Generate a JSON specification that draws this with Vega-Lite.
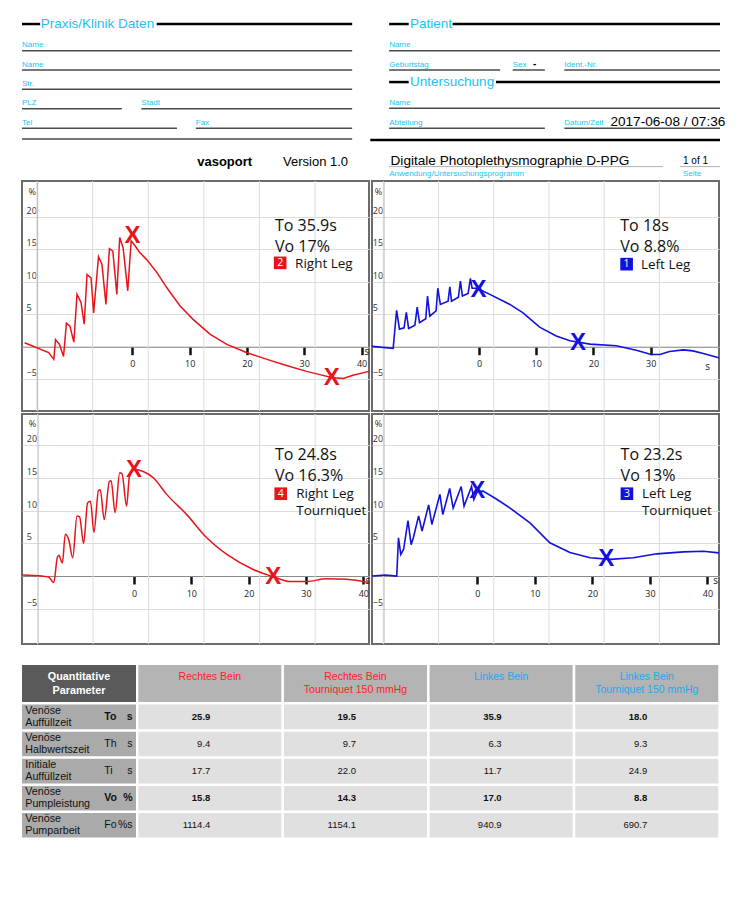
{
"$schema":"https://vega.github.io/schema/vega-lite/v6.json",
"background":"white",
"padding":{"left":18,"top":0,"right":0,"bottom":0},
"config":{"font":"Liberation Sans","view":{"stroke":null},"axis":{"labelFont":"Open Sans","titleFont":"Open Sans"},"text":{"font":"Liberation Sans"}},
"datasets":{
"formRules":[
{"kind":"section","x":0,"x2":2.6,"y":13.5},{"kind":"section","x":19.3,"x2":47.3,"y":13.5},{"kind":"section","x":52.6,"x2":55.4,"y":13.5},{"kind":"section","x":61.7,"x2":100,"y":13.5},{"kind":"section","x":52.6,"x2":55.4,"y":46.1},{"kind":"section","x":67.9,"x2":100,"y":46.1},{"kind":"section","x":49.9,"x2":100,"y":78.7},
{"kind":"field","x":0,"x2":47.3,"y":28.5},{"kind":"field","x":0,"x2":47.3,"y":39.3},{"kind":"field","x":0,"x2":47.3,"y":50.2},{"kind":"field","x":0,"x2":14.3,"y":61.1},{"kind":"field","x":17.1,"x2":47.3,"y":61.1},{"kind":"field","x":0,"x2":22.2,"y":72.1},{"kind":"field","x":24.9,"x2":47.3,"y":72.1},{"kind":"field","x":0,"x2":47.3,"y":78.1},
{"kind":"field","x":52.6,"x2":100,"y":28.5},{"kind":"field","x":52.6,"x2":68.5,"y":39.3},{"kind":"field","x":70.3,"x2":74.9,"y":39.3},{"kind":"field","x":77.7,"x2":100,"y":39.3},{"kind":"field","x":52.6,"x2":100,"y":60.8},{"kind":"field","x":52.6,"x2":74.9,"y":72.1},{"kind":"field","x":77.7,"x2":100,"y":72.1},
{"kind":"hair","x":52.6,"x2":91.8,"y":93.6},{"kind":"hair","x":94.3,"x2":100,"y":93.6}],
"formTexts":[
{"kind":"heading","text":"Praxis/Klinik Daten","x":2.7,"y":15.9},{"kind":"heading","text":"Patient","x":55.6,"y":15.9},{"kind":"heading","text":"Untersuchung","x":55.6,"y":48.5},
{"kind":"label","text":"Name","x":0,"y":26.5},{"kind":"label","text":"Name","x":0,"y":37.4},{"kind":"label","text":"Str.","x":0,"y":48.2},{"kind":"label","text":"PLZ","x":0,"y":59.1},{"kind":"label","text":"Stadt","x":17.1,"y":59.1},{"kind":"label","text":"Tel","x":0,"y":70.1},{"kind":"label","text":"Fax","x":24.9,"y":70.1},
{"kind":"label","text":"Name","x":52.6,"y":26.5},{"kind":"label","text":"Geburtstag","x":52.6,"y":37.4},{"kind":"label","text":"Sex","x":70.3,"y":37.4},{"kind":"label","text":"Ident.-Nr.","x":77.7,"y":37.4},{"kind":"label","text":"Name","x":52.6,"y":58.9},{"kind":"label","text":"Abteilung","x":52.6,"y":70.1},{"kind":"label","text":"Datum/Zeit","x":77.7,"y":70.1},{"kind":"label","text":"Anwendung/Untersuchungsprogramm","x":52.6,"y":98.9},{"kind":"label","text":"Seite","x":94.7,"y":98.9},
{"kind":"sex","text":"-","x":73.2,"y":37.4},
{"kind":"stamp","text":"2017-06-08 / 07:36","x":84.3,"y":70.9},
{"kind":"program","text":"Digitale Photoplethysmographie D-PPG","x":52.8,"y":92.9},
{"kind":"page","text":"1 of 1","x":94.7,"y":92.1},
{"kind":"brand","text":"vasoport","x":25.1,"y":93.3},
{"kind":"version","text":"Version 1.0","x":37.4,"y":93.3}],
"vgrid":[{"g":0},{"g":1},{"g":2},{"g":3},{"g":4},{"g":5}],
"curves":[
{"panel":"RL","t":-18.8,"v":0.6},{"panel":"RL","t":-14.6,"v":-0.9},{"panel":"RL","t":-13.7,"v":-1.95},{"panel":"RL","t":-13.4,"v":1.1},{"panel":"RL","t":-12.7,"v":0.35},{"panel":"RL","t":-12.0,"v":-1.5},{"panel":"RL","t":-11.5,"v":3.6},{"panel":"RL","t":-10.9,"v":3.2},{"panel":"RL","t":-10.2,"v":0.7},{"panel":"RL","t":-9.65,"v":8.05},{"panel":"RL","t":-8.95,"v":6.8},{"panel":"RL","t":-8.4,"v":3.45},{"panel":"RL","t":-7.9,"v":11.1},{"panel":"RL","t":-7.2,"v":10.6},{"panel":"RL","t":-6.75,"v":5.2},{"panel":"RL","t":-5.9,"v":13.85},{"panel":"RL","t":-5.3,"v":12.7},{"panel":"RL","t":-4.6,"v":6.5},{"panel":"RL","t":-4.0,"v":15.1},{"panel":"RL","t":-3.4,"v":14.7},{"panel":"RL","t":-2.7,"v":8.05},{"panel":"RL","t":-2.2,"v":16.8},{"panel":"RL","t":-1.6,"v":15.2},{"panel":"RL","t":-0.8,"v":8.6},{"panel":"RL","t":-0.2,"v":16.3},{"panel":"RL","t":0.5,"v":15.5},{"panel":"RL","t":1.3,"v":14.5},{"panel":"RL","t":2.5,"v":13.4},{"panel":"RL","t":4.3,"v":11.4},{"panel":"RL","t":6.0,"v":9.1},{"panel":"RL","t":8.3,"v":6.3},{"panel":"RL","t":10.6,"v":4.2},{"panel":"RL","t":13.6,"v":1.9},{"panel":"RL","t":16.5,"v":0.35},{"panel":"RL","t":19.9,"v":-0.9},{"panel":"RL","t":23.5,"v":-1.95},{"panel":"RL","t":26.9,"v":-2.9},{"panel":"RL","t":30.4,"v":-3.8},{"panel":"RL","t":32.7,"v":-4.3},{"panel":"RL","t":34.8,"v":-4.75},{"panel":"RL","t":36.8,"v":-4.9},{"panel":"RL","t":38.5,"v":-4.4},{"panel":"RL","t":41.3,"v":-3.8},
{"panel":"LL","t":-18.7,"v":0.05},{"panel":"LL","t":-15.0,"v":-0.25},{"panel":"LL","t":-14.4,"v":5.6},{"panel":"LL","t":-13.9,"v":2.7},{"panel":"LL","t":-13.1,"v":2.9},{"panel":"LL","t":-12.7,"v":5.3},{"panel":"LL","t":-12.3,"v":2.8},{"panel":"LL","t":-11.2,"v":3.3},{"panel":"LL","t":-10.8,"v":6.1},{"panel":"LL","t":-10.4,"v":3.7},{"panel":"LL","t":-9.3,"v":4.3},{"panel":"LL","t":-9.0,"v":7.8},{"panel":"LL","t":-8.6,"v":4.7},{"panel":"LL","t":-7.5,"v":5.5},{"panel":"LL","t":-7.2,"v":9.0},{"panel":"LL","t":-6.75,"v":6.5},{"panel":"LL","t":-5.4,"v":7.0},{"panel":"LL","t":-5.1,"v":9.2},{"panel":"LL","t":-4.8,"v":7.0},{"panel":"LL","t":-3.6,"v":7.6},{"panel":"LL","t":-3.25,"v":10.1},{"panel":"LL","t":-2.9,"v":7.8},{"panel":"LL","t":-1.9,"v":8.2},{"panel":"LL","t":-1.5,"v":10.5},{"panel":"LL","t":-1.2,"v":9.0},{"panel":"LL","t":-0.5,"v":9.0},{"panel":"LL","t":0.1,"v":8.8},{"panel":"LL","t":1.9,"v":8.05},{"panel":"LL","t":5.4,"v":6.5},{"panel":"LL","t":7.7,"v":5.2},{"panel":"LL","t":10.6,"v":3.0},{"panel":"LL","t":13.5,"v":1.65},{"panel":"LL","t":15.9,"v":0.9},{"panel":"LL","t":19.4,"v":0.4},{"panel":"LL","t":24.0,"v":0.15},{"panel":"LL","t":27.5,"v":-0.55},{"panel":"LL","t":30.1,"v":-1.2},{"panel":"LL","t":31.6,"v":-1.2},{"panel":"LL","t":33.3,"v":-0.75},{"panel":"LL","t":35.7,"v":-0.5},{"panel":"LL","t":37.4,"v":-0.65},{"panel":"LL","t":39.2,"v":-1.05},{"panel":"LL","t":41.9,"v":-1.7},
{"panel":"RLT","t":-19.5,"v":0.15},{"panel":"RLT","t":-16.1,"v":0.0},{"panel":"RLT","t":-14.9,"v":-0.15},{"panel":"RLT","t":-14.0,"v":-1.0},{"panel":"RLT","t":-13.4,"v":2.8},{"panel":"RLT","t":-13.1,"v":3.2},{"panel":"RLT","t":-12.7,"v":2.3},{"panel":"RLT","t":-12.5,"v":2.0},{"panel":"RLT","t":-12.0,"v":6.4},{"panel":"RLT","t":-11.4,"v":5.6},{"panel":"RLT","t":-10.7,"v":2.8},{"panel":"RLT","t":-9.95,"v":9.2},{"panel":"RLT","t":-9.5,"v":9.05},{"panel":"RLT","t":-8.8,"v":5.0},{"panel":"RLT","t":-8.1,"v":11.2},{"panel":"RLT","t":-7.6,"v":11.45},{"panel":"RLT","t":-7.0,"v":6.7},{"panel":"RLT","t":-6.2,"v":13.1},{"panel":"RLT","t":-5.9,"v":13.2},{"panel":"RLT","t":-5.2,"v":8.65},{"panel":"RLT","t":-4.3,"v":14.5},{"panel":"RLT","t":-4.0,"v":14.6},{"panel":"RLT","t":-3.3,"v":9.7},{"panel":"RLT","t":-2.5,"v":15.8},{"panel":"RLT","t":-2.1,"v":15.65},{"panel":"RLT","t":-1.3,"v":10.7},{"panel":"RLT","t":-0.8,"v":15.3},{"panel":"RLT","t":0.0,"v":16.3},{"panel":"RLT","t":1.6,"v":16.0},{"panel":"RLT","t":3.4,"v":15.0},{"panel":"RLT","t":5.7,"v":12.5},{"panel":"RLT","t":9.2,"v":9.4},{"panel":"RLT","t":12.7,"v":5.85},{"panel":"RLT","t":16.2,"v":3.3},{"panel":"RLT","t":20.8,"v":1.0},{"panel":"RLT","t":24.3,"v":-0.1},{"panel":"RLT","t":27.2,"v":-0.85},{"panel":"RLT","t":30.1,"v":-0.85},{"panel":"RLT","t":33.6,"v":-0.4},{"panel":"RLT","t":37.1,"v":-0.5},{"panel":"RLT","t":41.0,"v":-1.0},
{"panel":"LLT","t":-18.3,"v":0.0},{"panel":"LLT","t":-16.0,"v":0.15},{"panel":"LLT","t":-14.0,"v":0.0},{"panel":"LLT","t":-13.7,"v":5.85},{"panel":"LLT","t":-13.3,"v":3.3},{"panel":"LLT","t":-12.8,"v":4.1},{"panel":"LLT","t":-12.05,"v":8.5},{"panel":"LLT","t":-11.5,"v":4.8},{"panel":"LLT","t":-11.1,"v":5.9},{"panel":"LLT","t":-10.2,"v":9.2},{"panel":"LLT","t":-9.6,"v":6.9},{"panel":"LLT","t":-8.45,"v":10.9},{"panel":"LLT","t":-7.9,"v":7.9},{"panel":"LLT","t":-6.5,"v":12.5},{"panel":"LLT","t":-6.0,"v":9.4},{"panel":"LLT","t":-4.8,"v":13.4},{"panel":"LLT","t":-4.2,"v":10.4},{"panel":"LLT","t":-2.8,"v":13.7},{"panel":"LLT","t":-2.3,"v":10.7},{"panel":"LLT","t":-1.0,"v":13.7},{"panel":"LLT","t":-0.6,"v":11.7},{"panel":"LLT","t":0.0,"v":12.9},{"panel":"LLT","t":1.0,"v":13.0},{"panel":"LLT","t":3.1,"v":11.9},{"panel":"LLT","t":5.7,"v":10.4},{"panel":"LLT","t":9.2,"v":8.1},{"panel":"LLT","t":12.6,"v":5.1},{"panel":"LLT","t":16.1,"v":3.6},{"panel":"LLT","t":19.6,"v":2.8},{"panel":"LLT","t":23.1,"v":2.55},{"panel":"LLT","t":27.1,"v":2.8},{"panel":"LLT","t":31.2,"v":3.4},{"panel":"LLT","t":35.8,"v":3.7},{"panel":"LLT","t":39.3,"v":3.8},{"panel":"LLT","t":42.0,"v":3.55}],
"markers":[
{"panel":"RL","t":0.05,"v":17.0},{"panel":"RL","t":34.8,"v":-4.8},
{"panel":"LL","t":-0.1,"v":8.8},{"panel":"LL","t":17.3,"v":0.5},
{"panel":"RLT","t":0.0,"v":16.3},{"panel":"RLT","t":24.3,"v":-0.1},
{"panel":"LLT","t":0.0,"v":13.0},{"panel":"LLT","t":22.4,"v":2.55}],
"notes":[
{"panel":"RL","role":"stat","text":"To 35.9s","t":24.9,"v":18.6},{"panel":"RL","role":"stat","text":"Vo 17%","t":24.9,"v":15.35},{"panel":"RL","role":"badge","text":"2","t":25.8,"v":12.9},{"panel":"RL","role":"leg","text":"Right Leg","t":28.4,"v":12.7},
{"panel":"LL","role":"stat","text":"To 18s","t":24.7,"v":18.6},{"panel":"LL","role":"stat","text":"Vo 8.8%","t":24.7,"v":15.35},{"panel":"LL","role":"badge","text":"1","t":25.8,"v":12.7},{"panel":"LL","role":"leg","text":"Left Leg","t":28.3,"v":12.6},
{"panel":"RLT","role":"stat","text":"To 24.8s","t":24.6,"v":18.5},{"panel":"RLT","role":"stat","text":"Vo 16.3%","t":24.6,"v":15.25},{"panel":"RLT","role":"badge","text":"4","t":25.6,"v":12.6},{"panel":"RLT","role":"leg","text":"Right Leg","t":28.3,"v":12.6},{"panel":"RLT","role":"leg","text":"Tourniquet","t":28.3,"v":9.9},
{"panel":"LLT","role":"stat","text":"To 23.2s","t":24.9,"v":18.5},{"panel":"LLT","role":"stat","text":"Vo 13%","t":24.9,"v":15.25},{"panel":"LLT","role":"badge","text":"3","t":26.0,"v":12.6},{"panel":"LLT","role":"leg","text":"Left Leg","t":28.6,"v":12.6},{"panel":"LLT","role":"leg","text":"Tourniquet","t":28.6,"v":9.9}],
"tableCorner":[{"text":"Quantitative\nParameter"}],
"tableHead":[{"col":"R","side":"Rechtes","label":"Rechtes Bein"},{"col":"RT","side":"Rechtes","label":"Rechtes Bein\nTourniquet 150 mmHg"},{"col":"L","side":"Linkes","label":"Linkes Bein"},{"col":"LT","side":"Linkes","label":"Linkes Bein\nTourniquet 150 mmHg"}],
"params":[{"sym":"To","name":"Venöse\nAuffüllzeit","unit":"s"},{"sym":"Th","name":"Venöse\nHalbwertszeit","unit":"s"},{"sym":"Ti","name":"Initiale\nAuffüllzeit","unit":"s"},{"sym":"Vo","name":"Venöse\nPumpleistung","unit":"%"},{"sym":"Fo","name":"Venöse\nPumparbeit","unit":"%s"}],
"vals":[
{"sym":"To","col":"R","val":25.9},{"sym":"To","col":"RT","val":19.5},{"sym":"To","col":"L","val":35.9},{"sym":"To","col":"LT","val":18.0},
{"sym":"Th","col":"R","val":9.4},{"sym":"Th","col":"RT","val":9.7},{"sym":"Th","col":"L","val":6.3},{"sym":"Th","col":"LT","val":9.3},
{"sym":"Ti","col":"R","val":17.7},{"sym":"Ti","col":"RT","val":22.0},{"sym":"Ti","col":"L","val":11.7},{"sym":"Ti","col":"LT","val":24.9},
{"sym":"Vo","col":"R","val":15.8},{"sym":"Vo","col":"RT","val":14.3},{"sym":"Vo","col":"L","val":17.0},{"sym":"Vo","col":"LT","val":8.8},
{"sym":"Fo","col":"R","val":1114.4},{"sym":"Fo","col":"RT","val":1154.1},{"sym":"Fo","col":"L","val":940.9},{"sym":"Fo","col":"LT","val":690.7}]
},
"vconcat":[
{"vconcat":[
 {"width":698,"height":178,
  "encoding":{"x":{"field":"x","type":"quantitative","scale":{"domain":[0,100],"nice":false,"zero":false},"axis":null},
              "y":{"field":"y","type":"quantitative","scale":{"domain":[0,100],"reverse":true,"nice":false,"zero":false},"axis":null}},
  "layer":[
   {"data":{"name":"formRules"},"transform":[{"filter":"datum.kind == 'section'"}],"mark":{"type":"rule","color":"#000000","strokeWidth":2.5},"encoding":{"x2":{"field":"x2"}}},
   {"data":{"name":"formRules"},"transform":[{"filter":"datum.kind == 'field'"}],"mark":{"type":"rule","color":"#4a4a4a","strokeWidth":1.5},"encoding":{"x2":{"field":"x2"}}},
   {"data":{"name":"formRules"},"transform":[{"filter":"datum.kind == 'hair'"}],"mark":{"type":"rule","color":"#b0b0b0","strokeWidth":1},"encoding":{"x2":{"field":"x2"}}},
   {"data":{"name":"formTexts"},"transform":[{"filter":"datum.kind == 'heading'"}],"mark":{"type":"text","align":"left","baseline":"alphabetic","fontSize":13.5,"color":"#19c3f3"},"encoding":{"text":{"field":"text"}}},
   {"data":{"name":"formTexts"},"transform":[{"filter":"datum.kind == 'label'"}],"mark":{"type":"text","align":"left","baseline":"alphabetic","fontSize":8,"color":"#19c3f3"},"encoding":{"text":{"field":"text"}}},
   {"data":{"name":"formTexts"},"transform":[{"filter":"datum.kind == 'sex'"}],"mark":{"type":"text","align":"left","baseline":"alphabetic","fontSize":10,"fontWeight":"bold","color":"#000"},"encoding":{"text":{"field":"text"}}},
   {"data":{"name":"formTexts"},"transform":[{"filter":"datum.kind == 'stamp' || datum.kind == 'program'"}],"mark":{"type":"text","align":"left","baseline":"alphabetic","fontSize":13.6,"color":"#000"},"encoding":{"text":{"field":"text"}}},
   {"data":{"name":"formTexts"},"transform":[{"filter":"datum.kind == 'page'"}],"mark":{"type":"text","align":"left","baseline":"alphabetic","fontSize":10,"color":"#000"},"encoding":{"text":{"field":"text"}}},
   {"data":{"name":"formTexts"},"transform":[{"filter":"datum.kind == 'brand'"}],"mark":{"type":"text","align":"left","baseline":"alphabetic","fontSize":13,"fontWeight":"bold","color":"#000"},"encoding":{"text":{"field":"text"}}},
   {"data":{"name":"formTexts"},"transform":[{"filter":"datum.kind == 'version'"}],"mark":{"type":"text","align":"left","baseline":"alphabetic","fontSize":13,"color":"#000"},"encoding":{"text":{"field":"text"}}}
  ]},
 {"vconcat":[
  {"hconcat":[
   {"width":347,"height":230,"view":{"stroke":"#6b6b6b","strokeWidth":2},"resolve":{"scale":{"x":"independent"}},
    "layer":[
     {"data":{"name":"vgrid"},"mark":{"type":"rule","color":"#dcdcdc","strokeWidth":1},"encoding":{"x":{"field":"g","type":"quantitative","scale":{"domain":[-0.27,5.97],"nice":false,"zero":false},"axis":null}}},
     {"encoding":{
       "x":{"field":"t","type":"quantitative","scale":{"domain":[-19.25,41.3],"nice":false,"zero":false},"axis":{"values":[0,10,20,30,40],"offset":-64.3,"grid":false,"domainColor":"#8a8a8a","domainWidth":1,"tickColor":"#111","tickWidth":2.5,"tickSize":8,"labelFontSize":9,"labelColor":"#222","labelPadding":5,"labelFlush":false,"labelOverlap":false,"title":"s","titleX":344,"titleY":5,"titleFontSize":10,"titleFontWeight":"normal","titleColor":"#222","titleAlign":"center","titleBaseline":"middle"}},
       "y":{"field":"v","type":"quantitative","scale":{"domain":[-9.9,25.5],"nice":false,"zero":false},"axis":{"values":[-5,0,5,10,15,20],"offset":-15,"grid":true,"gridColor":"#dcdcdc","gridWidth":1,"domainColor":"#a0a0a0","domainWidth":1.2,"ticks":false,"tickSize":0,"labelAlign":"left","labelBaseline":"bottom","labelPadding":11,"labelOffset":-1.5,"labelFontSize":9,"labelColor":"#333","labelFlush":false,"labelOverlap":false,"labelExpr":"datum.value == 0 ? '' : datum.label","title":"%","titleAngle":0,"titleAlign":"left","titleBaseline":"middle","titleX":-9,"titleY":10.7,"titleFontSize":9,"titleFontWeight":"normal","titleColor":"#333"}}},
      "layer":[
       {"mark":{"type":"rule","color":"#dcdcdc","strokeWidth":1},"encoding":{"x":null,"y":{"datum":25}}},
       {"data":{"name":"curves"},"transform":[{"filter":"datum.panel == 'RL'"}],"mark":{"type":"line","color":"#e8141b","strokeWidth":1.5}},
       {"data":{"name":"markers"},"transform":[{"filter":"datum.panel == 'RL'"}],"mark":{"type":"text","text":"X","fontWeight":"bold","fontSize":24,"color":"#e8141b","align":"center","baseline":"middle"}},
       {"data":{"name":"notes"},"transform":[{"filter":"datum.panel == 'RL' && datum.role == 'stat'"}],"mark":{"type":"text","align":"left","baseline":"middle","font":"Open Sans","fontSize":16,"color":"#111"},"encoding":{"text":{"field":"text"}}},
       {"data":{"name":"notes"},"transform":[{"filter":"datum.panel == 'RL' && datum.role == 'leg'"}],"mark":{"type":"text","align":"left","baseline":"middle","font":"Open Sans","fontSize":13.5,"color":"#111"},"encoding":{"text":{"field":"text"}}},
       {"data":{"name":"notes"},"transform":[{"filter":"datum.panel == 'RL' && datum.role == 'badge'"}],"mark":{"type":"point","shape":"square","size":160,"filled":true,"opacity":1,"color":"#e8141b"}},
       {"data":{"name":"notes"},"transform":[{"filter":"datum.panel == 'RL' && datum.role == 'badge'"}],"mark":{"type":"text","align":"center","baseline":"middle","font":"Open Sans","fontSize":10.5,"color":"white"},"encoding":{"text":{"field":"text"}}}
      ]}
    ]},
   {"width":347,"height":230,"view":{"stroke":"#6b6b6b","strokeWidth":2},"resolve":{"scale":{"x":"independent"}},
    "layer":[
     {"data":{"name":"vgrid"},"mark":{"type":"rule","color":"#dcdcdc","strokeWidth":1},"encoding":{"x":{"field":"g","type":"quantitative","scale":{"domain":[-0.205,6.08],"nice":false,"zero":false},"axis":null}}},
     {"encoding":{
       "x":{"field":"t","type":"quantitative","scale":{"domain":[-18.7,41.95],"nice":false,"zero":false},"axis":{"values":[0,10,20,30],"offset":-64.3,"grid":false,"domainColor":"#8a8a8a","domainWidth":1,"tickColor":"#111","tickWidth":2.5,"tickSize":8,"labelFontSize":9,"labelColor":"#222","labelPadding":5,"labelFlush":false,"labelOverlap":false,"title":"s","titleX":335,"titleY":20,"titleFontSize":10,"titleFontWeight":"normal","titleColor":"#222","titleAlign":"center","titleBaseline":"middle"}},
       "y":{"field":"v","type":"quantitative","scale":{"domain":[-9.9,25.5],"nice":false,"zero":false},"axis":{"values":[-5,0,5,10,15,20],"offset":-11.3,"grid":true,"gridColor":"#dcdcdc","gridWidth":1,"domainColor":"#a0a0a0","domainWidth":1.2,"ticks":false,"tickSize":0,"labelAlign":"left","labelBaseline":"bottom","labelPadding":11,"labelOffset":-1.5,"labelFontSize":9,"labelColor":"#333","labelFlush":false,"labelOverlap":false,"labelExpr":"datum.value == 0 ? '' : datum.label","title":"%","titleAngle":0,"titleAlign":"left","titleBaseline":"middle","titleX":-9,"titleY":10.7,"titleFontSize":9,"titleFontWeight":"normal","titleColor":"#333"}}},
      "layer":[
       {"mark":{"type":"rule","color":"#dcdcdc","strokeWidth":1},"encoding":{"x":null,"y":{"datum":25}}},
       {"data":{"name":"curves"},"transform":[{"filter":"datum.panel == 'LL'"}],"mark":{"type":"line","color":"#1212dc","strokeWidth":1.6}},
       {"data":{"name":"markers"},"transform":[{"filter":"datum.panel == 'LL'"}],"mark":{"type":"text","text":"X","fontWeight":"bold","fontSize":24,"color":"#1212dc","align":"center","baseline":"middle"}},
       {"data":{"name":"notes"},"transform":[{"filter":"datum.panel == 'LL' && datum.role == 'stat'"}],"mark":{"type":"text","align":"left","baseline":"middle","font":"Open Sans","fontSize":16,"color":"#111"},"encoding":{"text":{"field":"text"}}},
       {"data":{"name":"notes"},"transform":[{"filter":"datum.panel == 'LL' && datum.role == 'leg'"}],"mark":{"type":"text","align":"left","baseline":"middle","font":"Open Sans","fontSize":13.5,"color":"#111"},"encoding":{"text":{"field":"text"}}},
       {"data":{"name":"notes"},"transform":[{"filter":"datum.panel == 'LL' && datum.role == 'badge'"}],"mark":{"type":"point","shape":"square","size":160,"filled":true,"opacity":1,"color":"#1212dc"}},
       {"data":{"name":"notes"},"transform":[{"filter":"datum.panel == 'LL' && datum.role == 'badge'"}],"mark":{"type":"text","align":"center","baseline":"middle","font":"Open Sans","fontSize":10.5,"color":"white"},"encoding":{"text":{"field":"text"}}}
      ]}
    ]}
  ],"spacing":3,"bounds":"flush"},
  {"hconcat":[
   {"width":347,"height":230,"view":{"stroke":"#6b6b6b","strokeWidth":2},"resolve":{"scale":{"x":"independent"}},
    "layer":[
     {"data":{"name":"vgrid"},"mark":{"type":"rule","color":"#dcdcdc","strokeWidth":1},"encoding":{"x":{"field":"g","type":"quantitative","scale":{"domain":[-0.28,5.97],"nice":false,"zero":false},"axis":null}}},
     {"encoding":{
       "x":{"field":"t","type":"quantitative","scale":{"domain":[-19.55,41.0],"nice":false,"zero":false},"axis":{"values":[0,10,20,30,40],"offset":-68,"grid":false,"domainColor":"#8a8a8a","domainWidth":1,"tickColor":"#111","tickWidth":2.5,"tickSize":8,"labelFontSize":9,"labelColor":"#222","labelPadding":5,"labelFlush":false,"labelOverlap":false,"title":"s","titleX":345,"titleY":4,"titleFontSize":10,"titleFontWeight":"normal","titleColor":"#222","titleAlign":"center","titleBaseline":"middle"}},
       "y":{"field":"v","type":"quantitative","scale":{"domain":[-10.4,24.8],"nice":false,"zero":false},"axis":{"values":[-5,0,5,10,15,20],"offset":-15.3,"grid":true,"gridColor":"#dcdcdc","gridWidth":1,"domainColor":"#a0a0a0","domainWidth":1.2,"ticks":false,"tickSize":0,"labelAlign":"left","labelBaseline":"bottom","labelPadding":11,"labelOffset":-1.5,"labelFontSize":9,"labelColor":"#333","labelFlush":false,"labelOverlap":false,"labelExpr":"datum.value == 0 ? '' : datum.label","title":"%","titleAngle":0,"titleAlign":"left","titleBaseline":"middle","titleX":-9,"titleY":9,"titleFontSize":9,"titleFontWeight":"normal","titleColor":"#333"}}},
      "layer":[
       {"data":{"name":"curves"},"transform":[{"filter":"datum.panel == 'RLT'"}],"mark":{"type":"line","color":"#e8141b","strokeWidth":1.5,"interpolate":"monotone"}},
       {"data":{"name":"markers"},"transform":[{"filter":"datum.panel == 'RLT'"}],"mark":{"type":"text","text":"X","fontWeight":"bold","fontSize":24,"color":"#e8141b","align":"center","baseline":"middle"}},
       {"data":{"name":"notes"},"transform":[{"filter":"datum.panel == 'RLT' && datum.role == 'stat'"}],"mark":{"type":"text","align":"left","baseline":"middle","font":"Open Sans","fontSize":16,"color":"#111"},"encoding":{"text":{"field":"text"}}},
       {"data":{"name":"notes"},"transform":[{"filter":"datum.panel == 'RLT' && datum.role == 'leg'"}],"mark":{"type":"text","align":"left","baseline":"middle","font":"Open Sans","fontSize":13.5,"color":"#111"},"encoding":{"text":{"field":"text"}}},
       {"data":{"name":"notes"},"transform":[{"filter":"datum.panel == 'RLT' && datum.role == 'badge'"}],"mark":{"type":"point","shape":"square","size":160,"filled":true,"opacity":1,"color":"#e8141b"}},
       {"data":{"name":"notes"},"transform":[{"filter":"datum.panel == 'RLT' && datum.role == 'badge'"}],"mark":{"type":"text","align":"center","baseline":"middle","font":"Open Sans","fontSize":10.5,"color":"white"},"encoding":{"text":{"field":"text"}}}
      ]}
    ]},
   {"width":347,"height":230,"view":{"stroke":"#6b6b6b","strokeWidth":2},"resolve":{"scale":{"x":"independent"}},
    "layer":[
     {"data":{"name":"vgrid"},"mark":{"type":"rule","color":"#dcdcdc","strokeWidth":1},"encoding":{"x":{"field":"g","type":"quantitative","scale":{"domain":[-0.205,6.08],"nice":false,"zero":false},"axis":null}}},
     {"encoding":{
       "x":{"field":"t","type":"quantitative","scale":{"domain":[-18.3,42.0],"nice":false,"zero":false},"axis":{"values":[0,10,20,30,40],"offset":-68,"grid":false,"domainColor":"#8a8a8a","domainWidth":1,"tickColor":"#111","tickWidth":2.5,"tickSize":8,"labelFontSize":9,"labelColor":"#222","labelPadding":5,"labelFlush":false,"labelOverlap":false,"title":"s","titleX":343,"titleY":4,"titleFontSize":10,"titleFontWeight":"normal","titleColor":"#222","titleAlign":"center","titleBaseline":"middle"}},
       "y":{"field":"v","type":"quantitative","scale":{"domain":[-10.4,24.8],"nice":false,"zero":false},"axis":{"values":[-5,0,5,10,15,20],"offset":-11.3,"grid":true,"gridColor":"#dcdcdc","gridWidth":1,"domainColor":"#a0a0a0","domainWidth":1.2,"ticks":false,"tickSize":0,"labelAlign":"left","labelBaseline":"bottom","labelPadding":11,"labelOffset":-1.5,"labelFontSize":9,"labelColor":"#333","labelFlush":false,"labelOverlap":false,"labelExpr":"datum.value == 0 ? '' : datum.label","title":"%","titleAngle":0,"titleAlign":"left","titleBaseline":"middle","titleX":-9,"titleY":9,"titleFontSize":9,"titleFontWeight":"normal","titleColor":"#333"}}},
      "layer":[
       {"data":{"name":"curves"},"transform":[{"filter":"datum.panel == 'LLT'"}],"mark":{"type":"line","color":"#1212dc","strokeWidth":1.6}},
       {"data":{"name":"markers"},"transform":[{"filter":"datum.panel == 'LLT'"}],"mark":{"type":"text","text":"X","fontWeight":"bold","fontSize":24,"color":"#1212dc","align":"center","baseline":"middle"}},
       {"data":{"name":"notes"},"transform":[{"filter":"datum.panel == 'LLT' && datum.role == 'stat'"}],"mark":{"type":"text","align":"left","baseline":"middle","font":"Open Sans","fontSize":16,"color":"#111"},"encoding":{"text":{"field":"text"}}},
       {"data":{"name":"notes"},"transform":[{"filter":"datum.panel == 'LLT' && datum.role == 'leg'"}],"mark":{"type":"text","align":"left","baseline":"middle","font":"Open Sans","fontSize":13.5,"color":"#111"},"encoding":{"text":{"field":"text"}}},
       {"data":{"name":"notes"},"transform":[{"filter":"datum.panel == 'LLT' && datum.role == 'badge'"}],"mark":{"type":"point","shape":"square","size":160,"filled":true,"opacity":1,"color":"#1212dc"}},
       {"data":{"name":"notes"},"transform":[{"filter":"datum.panel == 'LLT' && datum.role == 'badge'"}],"mark":{"type":"text","align":"center","baseline":"middle","font":"Open Sans","fontSize":10.5,"color":"white"},"encoding":{"text":{"field":"text"}}}
      ]}
    ]}
  ],"spacing":3,"bounds":"flush"}
 ],"spacing":-1}
],"spacing":0},
{"vconcat":[
 {"hconcat":[
  {"width":114,"height":37,"view":{"fill":"#5a5a5a","stroke":null},"data":{"name":"tableCorner"},
   "mark":{"type":"text","align":"center","baseline":"middle","fontSize":10.8,"fontWeight":"bold","color":"white","lineBreak":"\n","lineHeight":14.3,"dy":-6.7},
   "encoding":{"text":{"field":"text"}}},
  {"width":580,"height":37,"data":{"name":"tableHead"},
   "encoding":{"x":{"field":"col","type":"nominal","sort":["R","RT","L","LT"],"scale":{"paddingInner":0.018,"paddingOuter":0},"axis":null}},
   "layer":[
    {"mark":{"type":"rect","color":"#b4b4b4"}},
    {"mark":{"type":"text","align":"center","baseline":"top","dy":-11.8,"fontSize":10.5,"lineBreak":"\n","lineHeight":13.5},
     "encoding":{"text":{"field":"label"},"color":{"field":"side","type":"nominal","scale":{"domain":["Rechtes","Linkes"],"range":["#ff1e1e","#1fa9ee"]},"legend":null}}}
   ]}
 ],"spacing":2.3,"bounds":"flush"},
 {"hconcat":[
  {"width":114,"height":133,"data":{"name":"params"},
   "encoding":{"y":{"field":"sym","type":"nominal","sort":["To","Th","Ti","Vo","Fo"],"scale":{"paddingInner":0.093,"paddingOuter":0},"axis":null}},
   "layer":[
    {"mark":{"type":"rect","color":"#aaaaaa"}},
    {"mark":{"type":"text","align":"left","baseline":"middle","dx":-53.7,"dy":-6.2,"fontSize":10.7,"lineBreak":"\n","lineHeight":12.4,"color":"#111"},"encoding":{"text":{"field":"name"}}},
    {"transform":[{"filter":"datum.sym == 'To' || datum.sym == 'Vo'"}],"mark":{"type":"text","align":"left","baseline":"middle","dx":25.3,"fontSize":10.5,"fontWeight":"bold","color":"#111"},"encoding":{"text":{"field":"sym"}}},
    {"transform":[{"filter":"datum.sym != 'To' && datum.sym != 'Vo'"}],"mark":{"type":"text","align":"left","baseline":"middle","dx":25.3,"fontSize":10.5,"color":"#111"},"encoding":{"text":{"field":"sym"}}},
    {"transform":[{"filter":"datum.sym == 'To' || datum.sym == 'Vo'"}],"mark":{"type":"text","align":"right","baseline":"middle","dx":53.6,"fontSize":10.5,"fontWeight":"bold","color":"#111"},"encoding":{"text":{"field":"unit"}}},
    {"transform":[{"filter":"datum.sym != 'To' && datum.sym != 'Vo'"}],"mark":{"type":"text","align":"right","baseline":"middle","dx":53.6,"fontSize":10.5,"color":"#111"},"encoding":{"text":{"field":"unit"}}}
   ]},
  {"width":580,"height":133,"data":{"name":"vals"},
   "encoding":{"x":{"field":"col","type":"nominal","sort":["R","RT","L","LT"],"scale":{"paddingInner":0.018,"paddingOuter":0},"axis":null},
               "y":{"field":"sym","type":"nominal","sort":["To","Th","Ti","Vo","Fo"],"scale":{"paddingInner":0.093,"paddingOuter":0},"axis":null}},
   "layer":[
    {"mark":{"type":"rect","color":"#e0e0e0"}},
    {"transform":[{"filter":"datum.sym == 'To' || datum.sym == 'Vo'"}],"mark":{"type":"text","align":"right","baseline":"middle","dx":0.5,"fontSize":9.5,"fontWeight":"bold","color":"#111"},"encoding":{"text":{"field":"val","type":"quantitative","format":".1f"}}},
    {"transform":[{"filter":"datum.sym != 'To' && datum.sym != 'Vo'"}],"mark":{"type":"text","align":"right","baseline":"middle","dx":0.5,"fontSize":9.5,"color":"#111"},"encoding":{"text":{"field":"val","type":"quantitative","format":".1f"}}}
   ]}
 ],"spacing":2.3,"bounds":"flush"}
],"spacing":2.6}
],
"spacing":19
}
